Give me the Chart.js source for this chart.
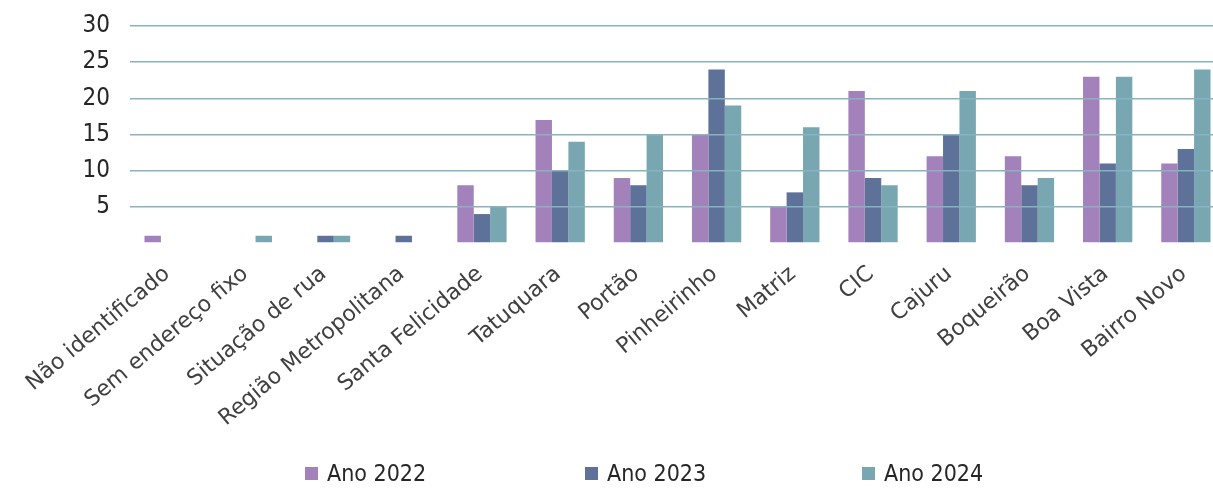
<!DOCTYPE html>
<html>
<head>
<meta charset="utf-8">
<script src="https://cdn.jsdelivr.net/npm/chart.js@4/dist/chart.umd.min.js"></script>
<style>
    html, body { margin: 0; padding: 0; background: #fff; }
    .wrap { position: relative; width: 1213px; height: 489px; overflow: hidden; }
    .legend {
        position: absolute; left: 0; top: 460px; width: 1213px;
        font-family: "DejaVu Sans Condensed", sans-serif;
        font-size: 23px; color: #262626;
    }
    .legend span.item { position: absolute; top: 0; white-space: nowrap; }
    .legend i { display: inline-block; width: 13px; height: 13px; margin-right: 9px; vertical-align: 1px; }
</style>
</head>
<body>
<div class="wrap">
    <!-- canvas is a bit wider than the page: the plot runs past the right edge like the original -->
    <canvas id="chart" width="1225" height="489"></canvas>
    <div class="legend" id="legend"></div>
</div>
<script>
const categories = ['Não identificado', 'Sem endereço fixo', 'Situação de rua', 'Região Metropolitana',
    'Santa Felicidade', 'Tatuquara', 'Portão', 'Pinheirinho', 'Matriz', 'CIC', 'Cajuru',
    'Boqueirão', 'Boa Vista', 'Bairro Novo'];
const seriesNames = ['Ano 2022', 'Ano 2023', 'Ano 2024'];
const ano2022 = [1, 0, 0, 0, 8, 17, 9, 15, 5, 21, 12, 12, 23, 11];
const ano2023 = [0, 0, 1, 1, 4, 10, 8, 24, 7, 9, 15, 8, 11, 13];
const ano2024 = [0, 1, 1, 0, 5, 14, 15, 19, 16, 8, 21, 9, 23, 24];
const yTicks = [5, 10, 15, 20, 25, 30];

const colors = ['#a382bb', '#5e7198', '#78a6b1'];
const legendX = [305, 585, 862];

const ctx = document.getElementById('chart').getContext('2d');

const chart = new Chart(ctx, {
    type: 'bar',
    data: {
        labels: categories,
        datasets: [ano2022, ano2023, ano2024].map((d, i) => ({
            label: seriesNames[i],
            data: d,
            backgroundColor: colors[i],
            borderWidth: 0,
            categoryPercentage: 0.63,
            barPercentage: 1.0
        }))
    },
    options: {
        responsive: false,
        animation: false,
        layout: { padding: { top: 26, right: 0, left: 0, bottom: 0 } },
        plugins: {
            legend: { display: false },
            tooltip: { enabled: false }
        },
        scales: {
            x: {
                grid: { display: false },
                border: { display: false },
                ticks: {
                    autoSkip: false,
                    maxRotation: 40,
                    minRotation: 40,
                    padding: 10,
                    labelOffset: -2,
                    color: '#404040',
                    font: { family: 'DejaVu Sans', size: 22 }
                },
                afterFit: (scale) => {
                    scale.height = 246;
                    scale.paddingLeft = 0;
                    scale.paddingRight = 0;
                }
            },
            y: {
                min: 0,
                max: 30,
                border: { display: false },
                grid: {
                    drawTicks: false,
                    z: 1,
                    lineWidth: 1.5,
                    color: (c) => c.tick && c.tick.value === 0 ? 'rgba(0,0,0,0)' : '#86b3bf'
                },
                afterBuildTicks: (scale) => {
                    scale.ticks = [0].concat(yTicks).map(v => ({ value: v }));
                },
                ticks: {
                    autoSkip: false,
                    padding: 20,
                    color: '#262626',
                    font: { family: 'DejaVu Sans Condensed', size: 24 },
                    callback: (v) => v === 0 ? '' : v
                },
                afterFit: (scale) => {
                    scale.width = 130;
                    scale.paddingTop = 0;
                    scale.paddingBottom = 0;
                }
            }
        }
    }
});

const legend = document.getElementById('legend');
seriesNames.forEach((name, i) => {
    const item = document.createElement('span');
    item.className = 'item';
    item.style.left = legendX[i] + 'px';
    item.innerHTML = '<i style="background:' + colors[i] + '"></i>' + name;
    legend.appendChild(item);
});
</script>
</body>
</html>
